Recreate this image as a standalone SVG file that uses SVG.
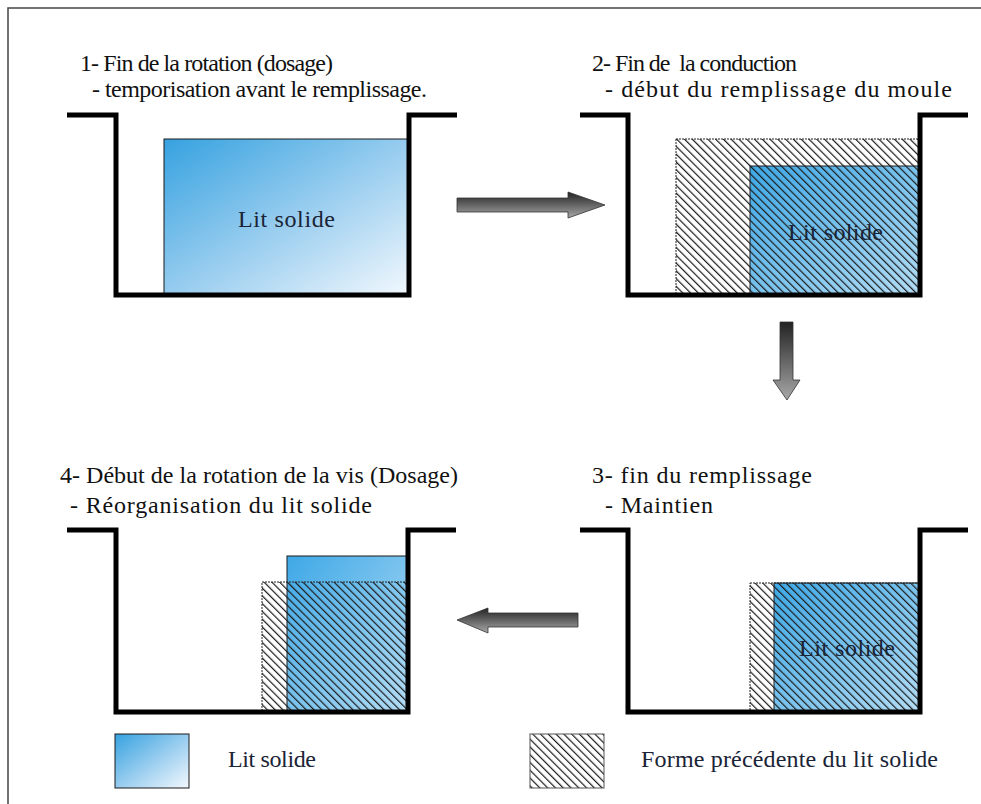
<svg xmlns="http://www.w3.org/2000/svg" width="981" height="804" viewBox="0 0 981 804">
<defs>
<linearGradient id="blue" x1="0" y1="0" x2="1" y2="1">
<stop offset="0" stop-color="#36a2e0"/>
<stop offset="0.55" stop-color="#9fd0f0"/>
<stop offset="1" stop-color="#f2f8fd"/>
</linearGradient>
<linearGradient id="blue2" x1="0" y1="0" x2="1" y2="1">
<stop offset="0" stop-color="#3ea8e6"/>
<stop offset="1" stop-color="#b4ddf5"/>
</linearGradient>
<pattern id="hatch" width="5.5" height="5.5" patternUnits="userSpaceOnUse" patternTransform="rotate(-45)">
<rect x="0" y="0" width="1.2" height="5.5" fill="#1a1a1a"/>
</pattern>
<linearGradient id="arrowV" x1="0" y1="0" x2="0" y2="1">
<stop offset="0" stop-color="#222"/>
<stop offset="1" stop-color="#a8a8a8"/>
</linearGradient>
</defs>
<style>
.frame{fill:none;stroke:#444;stroke-width:1.5}
.tank{fill:none;stroke:#000;stroke-width:5;stroke-linejoin:miter;stroke-linecap:butt}
.title{font-family:"Liberation Serif","DejaVu Serif",serif;font-size:24px;fill:#111}
.lbl{font-family:"Liberation Serif","DejaVu Serif",serif;font-size:24px;fill:#1a2436}
.solid{fill:url(#blue);stroke:#1a1a1a;stroke-width:1}
.solid2{fill:url(#blue2);stroke:#1a1a1a;stroke-width:1}
.hatch{fill:url(#hatch);stroke:#222;stroke-width:1;stroke-dasharray:2 1}
.arrow{fill:url(#arrowV);stroke:#333;stroke-width:0.8}
</style>
<rect width="981" height="804" fill="#fff"/>
<path class="frame" d="M8,804 V8 H981"/>

<g id="stage1">
<text class="title" x="80" y="71" textLength="253" lengthAdjust="spacing">1- Fin de la rotation (dosage)</text>
<text class="title" x="92" y="97" textLength="335" lengthAdjust="spacing">- temporisation avant le remplissage.</text>
<rect class="solid" x="164" y="139" width="245" height="156"/>
<path class="tank" d="M67,115 H116 V295 H409 V115 H457"/>
<text class="lbl" x="238" y="227" textLength="97" lengthAdjust="spacing">Lit solide</text>
</g>

<g id="stage2">
<text class="title" x="592" y="71" textLength="205" lengthAdjust="spacing" xml:space="preserve">2- Fin de  la conduction</text>
<text class="title" x="605" y="97" textLength="347" lengthAdjust="spacing">- début du remplissage du moule</text>
<rect class="solid2" x="750" y="166" width="170" height="129"/>
<rect class="hatch" x="676" y="139" width="244" height="156"/>
<path class="tank" d="M580,115 H628 V295 H920 V115 H968"/>
<text class="lbl" x="788" y="240" textLength="95" lengthAdjust="spacing">Lit solide</text>
</g>

<g id="stage3">
<text class="title" x="592" y="483" textLength="220" lengthAdjust="spacing">3- fin du remplissage</text>
<text class="title" x="605" y="513" textLength="108" lengthAdjust="spacing">- Maintien</text>
<rect class="solid2" x="774" y="583" width="146" height="129"/>
<rect class="hatch" x="750" y="583" width="170" height="129"/>
<path class="tank" d="M580,530 H628 V712 H920 V530 H968"/>
<text class="lbl" x="799" y="656" textLength="96" lengthAdjust="spacing">Lit solide</text>
</g>

<g id="stage4">
<text class="title" x="60" y="483" textLength="398" lengthAdjust="spacing">4- Début de la rotation de la vis (Dosage)</text>
<text class="title" x="70" y="513" textLength="302" lengthAdjust="spacing">- Réorganisation du lit solide</text>
<rect class="solid2" x="287" y="556" width="121" height="156"/>
<rect class="hatch" x="262" y="582" width="146" height="130"/>
<path class="tank" d="M67,530 H116 V712 H408 V530 H456"/>
</g>

<g id="connectors">
<polygon class="arrow" points="457,198 568,198 568,192 605,205 568,218 568,212 457,212"/>
<polygon class="arrow" points="780,322 793,322 793,380 800,380 787,400 773,380 780,380"/>
<polygon class="arrow" points="578,613 488,613 488,608 457,620 488,633 488,627 578,627"/>
</g>

<g id="legend-solid">
<rect class="solid" x="115" y="734" width="74" height="54"/>
<text class="lbl" x="228" y="767" textLength="88" lengthAdjust="spacing">Lit solide</text>
</g>
<g id="legend-previous">
<rect x="530" y="734" width="74" height="54" fill="url(#hatch)" stroke="#555" stroke-width="1"/>
<text class="lbl" x="641" y="767" textLength="297" lengthAdjust="spacing">Forme précédente du lit solide</text>
</g>
</svg>
